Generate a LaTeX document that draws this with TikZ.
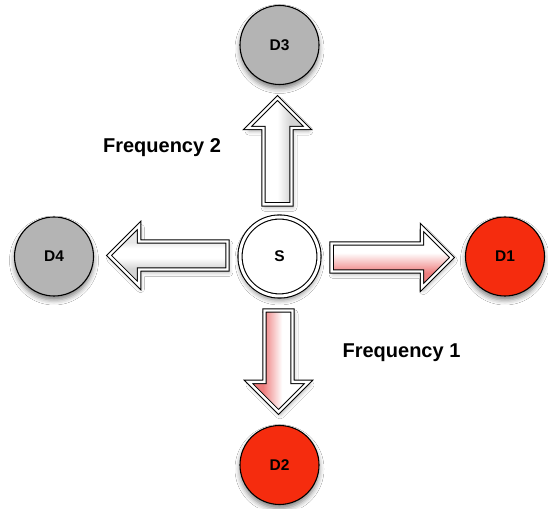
\documentclass[tikz,border=0pt]{standalone}
\usepackage{fontspec}
\setmainfont{Liberation Sans}
\usetikzlibrary{calc,shadows,shadows.blur}
\definecolor{dred}{RGB}{245,44,14}
\definecolor{dgray}{RGB}{180,180,180}
\definecolor{apink}{RGB}{238,125,125}
\definecolor{agray}{RGB}{212,212,212}
\definecolor{bgray}{RGB}{232,232,232}
\pgfdeclareverticalshading{rshade}{100bp}{color(0bp)=(apink); color(37bp)=(apink); color(54bp)=(white); color(100bp)=(white)}
\pgfdeclarehorizontalshading{dshade}{100bp}{color(0bp)=(apink); color(37bp)=(apink); color(53bp)=(white); color(100bp)=(white)}
\pgfdeclarehorizontalshading{ushade}{100bp}{color(0bp)=(white); color(50bp)=(white); color(61bp)=(agray); color(100bp)=(agray)}
\pgfdeclareverticalshading{lshade}{100bp}{color(0bp)=(agray); color(39bp)=(agray); color(48bp)=(white); color(56bp)=(white); color(61bp)=(bgray); color(100bp)=(bgray)}
\begin{document}
\begin{tikzpicture}[x=1pt,y=1pt,
  dev/.style={circle, draw=black, line width=1.1pt, minimum size=79pt, inner sep=0pt,
    font=\bfseries\fontsize{15.5}{18}\selectfont,
    blur shadow={shadow xshift=0pt, shadow yshift=-4pt, shadow blur radius=5pt, shadow opacity=50}},
  src/.style={circle, draw=black, double=white, double distance=3pt, line width=1.1pt,
    minimum size=79pt, inner sep=0pt, fill=white,
    font=\bfseries\fontsize{15.5}{18}\selectfont,
    blur shadow={shadow xshift=0pt, shadow yshift=-4pt, shadow blur radius=5pt, shadow opacity=50}},
  blockarr/.style={draw=black, double=white, double distance=2.4pt, line width=1pt,
    line join=miter,
    blur shadow={shadow xshift=1.5pt, shadow yshift=-3pt, shadow blur radius=4pt, shadow opacity=30}},
  lbl/.style={font=\bfseries\fontsize{20}{24}\selectfont, inner sep=0pt}
]
\fill[white] (0,0) rectangle (548,508);
\useasboundingbox (0,0) rectangle (548,508);

\node[src] (S) at (279.5,251.5) {S};
\node[dev, fill=dgray] (D3) at (279.5,463) {D3};
\node[dev, fill=dgray] (D4) at (54,251.5) {D4};
\node[dev, fill=dred] (D1) at (505,251.5) {D1};
\node[dev, fill=dred] (D2) at (279.5,43) {D2};

\coordinate (ua) at ($(S.north)+(-2,12)$);
\coordinate (ub) at ($(D3.south)+(-2,-13)$);
\coordinate (la) at ($(S.west)+(-12,1)$);
\coordinate (lb) at ($(D4.east)+(15,1)$);
\coordinate (ra) at ($(S.east)+(12,-1)$);
\coordinate (rb) at ($(D1.west)+(-13,-1)$);
\coordinate (da) at ($(S.south)+(-1,-14)$);
\coordinate (db) at ($(D2.north)+(-1,13)$);

% up arrow (S -> D3)
\draw[blockarr, shading=ushade]
  let \p1=(ua), \p2=(ub) in
  (\x1-14pt,\y1) -- (\x1-14pt,\y2-30pt) -- (\x1-30pt,\y2-30pt) -- (\x1,\y2)
  -- (\x1+30pt,\y2-30pt) -- (\x1+14pt,\y2-30pt) -- (\x1+14pt,\y1) -- cycle;
% left arrow (S -> D4)
\draw[blockarr, shading=lshade]
  let \p1=(la), \p2=(lb) in
  (\x1,\y1-14pt) -- (\x2+30pt,\y1-14pt) -- (\x2+30pt,\y1-30pt) -- (\x2,\y1)
  -- (\x2+30pt,\y1+30pt) -- (\x2+30pt,\y1+14pt) -- (\x1,\y1+14pt) -- cycle;
% right arrow (S -> D1)
\draw[blockarr, shading=rshade]
  let \p1=(ra), \p2=(rb) in
  (\x1,\y1-14pt) -- (\x2-30pt,\y1-14pt) -- (\x2-30pt,\y1-30pt) -- (\x2,\y1)
  -- (\x2-30pt,\y1+30pt) -- (\x2-30pt,\y1+14pt) -- (\x1,\y1+14pt) -- cycle;
% down arrow (S -> D2)
\draw[blockarr, shading=dshade]
  let \p1=(da), \p2=(db) in
  (\x1-14pt,\y1) -- (\x1-14pt,\y2+30pt) -- (\x1-30pt,\y2+30pt) -- (\x1,\y2)
  -- (\x1+30pt,\y2+30pt) -- (\x1+14pt,\y2+30pt) -- (\x1+14pt,\y1) -- cycle;

\node[lbl, anchor=base] (f2) at (162,355) {Frequency 2};
\node[lbl, anchor=base] (f1) at (401.5,150) {Frequency 1};
\end{tikzpicture}
\end{document}
